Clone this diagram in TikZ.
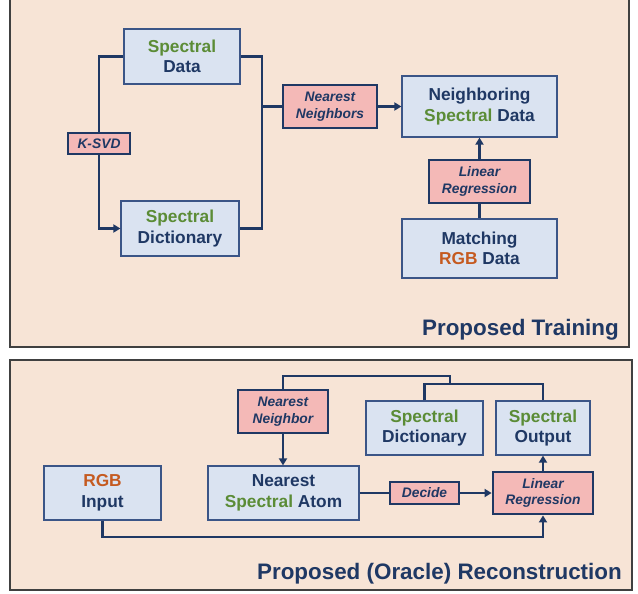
\documentclass[tikz,border=0pt]{standalone}
\usepackage{fontspec}
\setmainfont{Liberation Sans}
\usetikzlibrary{arrows.meta}
\definecolor{bg}{HTML}{F7E4D6}
\definecolor{bluefill}{HTML}{DAE3F1}
\definecolor{blueline}{HTML}{3B5587}
\definecolor{navy}{HTML}{1F3864}
\definecolor{sgreen}{HTML}{5B8C36}
\definecolor{rgbor}{HTML}{C55A20}
\definecolor{pinkfill}{HTML}{F4B9B7}
\definecolor{framecol}{HTML}{404040}
\tikzset{
  bluebox/.style={draw=blueline, line width=1.2pt, fill=bluefill, align=center, inner sep=0pt, text=navy, font=\bfseries\fontsize{17.3}{20.5}\selectfont},
  pinkbox/.style={draw=navy, line width=2.8pt, fill=pinkfill, align=center, inner sep=0pt, text=navy, font=\bfseries\itshape\fontsize{13.8}{16.5}\selectfont},
  conn/.style={draw=navy, line width=2.8pt},
  arr/.style={conn, -{Triangle[length=7pt,width=8pt]}},
  panel/.style={draw=framecol, fill=bg, line width=1.5pt},
  title/.style={anchor=east, text=navy, font=\bfseries\fontsize{22.4}{26}\selectfont, inner sep=0pt}
}
\newcommand{\sg}[1]{{\color{sgreen}#1}}
\newcommand{\ro}[1]{{\color{rgbor}#1}}
\begin{document}
\begin{tikzpicture}[x=1pt,y=-1pt]
\useasboundingbox (0,0) rectangle (638,594);
\fill[white] (0,0) rectangle (638,594);
% panels
\draw[panel] (10,-5) rectangle (629,347);
\draw[panel] (10,360) rectangle (632,590);
% top nodes
\node[bluebox, minimum width=116, minimum height=55] (sd) at (182,56.5) {\sg{Spectral}\\Data};
\node[bluebox, minimum width=118, minimum height=55] (sdict) at (180,228.5) {\sg{Spectral}\\Dictionary};
\node[pinkbox, minimum width=62, minimum height=21] (ksvd) at (99,143.5) {K-SVD};
\node[pinkbox, minimum width=94, minimum height=43] (nn) at (330,106.5) {Nearest\\Neighbors};
\node[bluebox, minimum width=155, minimum height=61] (nbr) at (479.5,106.5) {Neighboring\\\sg{Spectral} Data};
\node[pinkbox, minimum width=101, minimum height=43] (lr) at (479.5,181.5) {Linear\\Regression};
\node[bluebox, minimum width=155, minimum height=59] (mrgb) at (479.5,248.5) {Matching\\\ro{RGB} Data};
\node[title] (ttrain) at (619,330) {Proposed Training};
\coordinate (jr) at (262,106.5);
% top connectors
\draw[conn] (sd.west) -| (ksvd.north);
\draw[arr] (ksvd.south) |- (sdict.west);
\draw[conn] (sd.east) -| (jr) |- (sdict.east);
\draw[conn] (jr) -- (nn.west);
\draw[arr] (nn.east) -- (nbr.west);
\draw[conn] (mrgb.north) -- (lr.south);
\draw[arr] (lr.north) -- (nbr.south);
% bottom nodes
\node[pinkbox, minimum width=90, minimum height=43] (nnb) at (283,411.5) {Nearest\\Neighbor};
\node[bluebox, minimum width=117, minimum height=54] (sdic2) at (424.5,428) {\sg{Spectral}\\Dictionary};
\node[bluebox, minimum width=94, minimum height=54] (sout) at (543,428) {\sg{Spectral}\\Output};
\node[bluebox, minimum width=151, minimum height=54] (atom) at (283.5,493) {Nearest\\\sg{Spectral} Atom};
\node[pinkbox, minimum width=69, minimum height=22] (dec) at (424.5,493) {Decide};
\node[pinkbox, minimum width=100, minimum height=42] (lr2) at (543,493) {Linear\\Regression};
\node[bluebox, minimum width=117, minimum height=54] (rgb) at (102.5,493) {\ro{RGB}\\Input};
\node[title] (trec) at (622,574) {Proposed (Oracle) Reconstruction};
\coordinate (t1) at (450,376);
\coordinate (t2) at (450,384);
\coordinate (b1) at (543,537);
% bottom connectors
\draw[conn] (nnb.north) |- (t1) -- (t2);
\draw[conn] (sdic2.north) |- (t2) -| (sout.north);
\draw[arr] (nnb.south) -- (nnb.south |- atom.north);
\draw[conn] (atom.east) -- (dec.west);
\draw[arr] (dec.east) -- (lr2.west);
\draw[arr] (lr2.north) -- (sout.south);
\draw[arr] (rgb.south) |- (b1) -- (lr2.south);
\end{tikzpicture}
\end{document}
